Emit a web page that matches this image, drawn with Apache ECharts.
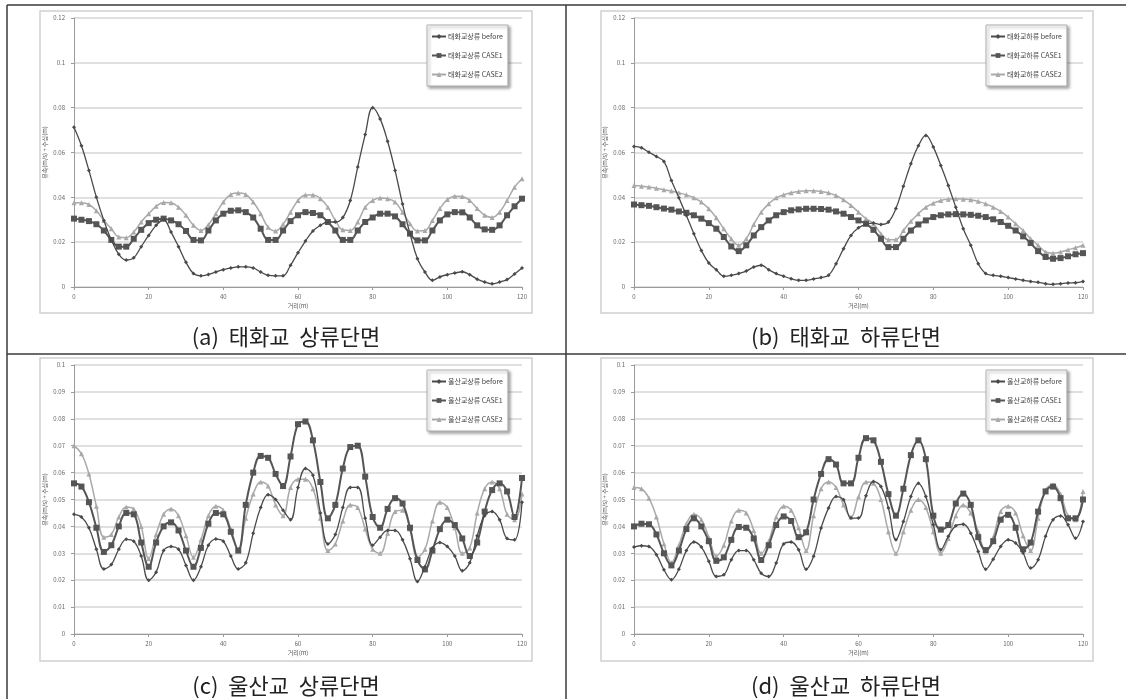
<!DOCTYPE html>
<html>
<head>
<meta charset="utf-8">
<script src="https://cdn.jsdelivr.net/npm/echarts@6/dist/echarts.min.js"></script>
<style>
  html, body { margin: 0; padding: 0; background: #fff; }
  #chart { width: 1126px; height: 699px; }
</style>
</head>
<body>
<div id="chart"></div>
<script>
// distance (m)
const dist = [0, 2, 4, 6, 8, 10, 12, 14, 16, 18, 20, 22, 24, 26, 28, 30, 32, 34, 36, 38, 40,
    42, 44, 46, 48, 50, 52, 54, 56, 58, 60, 62, 64, 66, 68, 70, 72, 74, 76, 78, 80,
    82, 84, 86, 88, 90, 92, 94, 96, 98, 100, 102, 104, 106, 108, 110, 112, 114, 116, 118, 120];

// (a) 태화교 상류
const aBefore = [.0713, .0630, .0520, .0400, .0297, .0210, .0146, .0120, .0130, .0180,
    .0230, .0275, .0300, .0245, .0180, .0110, .0060, .0050, .0056, .0067,
    .0077, .0085, .0090, .0090, .0085, .0067, .0052, .0050, .0050, .0097,
    .0153, .0205, .0250, .0275, .0290, .0290, .0310, .0386, .0535, .0680,
    .0800, .0750, .0650, .0520, .0370, .0238, .0126, .0067, .0030, .0045,
    .0055, .0062, .0068, .0055, .0035, .0022, .0014, .0022, .0033, .0058, .0085];
const aCase1 = [.0305, .0300, .0294, .0280, .0252, .0210, .0180, .0180, .0215, .0255,
    .0285, .0300, .0305, .0297, .0280, .0250, .0210, .0208, .0252, .0297,
    .0327, .0340, .0342, .0334, .0310, .0260, .0210, .0210, .0252, .0294,
    .0320, .0334, .0330, .0320, .0290, .0252, .0210, .0210, .0252, .0290,
    .0310, .0327, .0327, .0315, .0280, .0238, .0208, .0208, .0252, .0297,
    .0324, .0334, .0333, .0310, .0275, .0257, .0255, .0275, .0320, .0360, .0394];
const aCase2 = [.0376, .0376, .0368, .0340, .0297, .0260, .0223, .0220, .0245, .0290,
    .0327, .0360, .0377, .0376, .0356, .0320, .0275, .0252, .0278, .0327,
    .0379, .0413, .0419, .0413, .0379, .0327, .0267, .0250, .0280, .0334,
    .0386, .0410, .0410, .0394, .0356, .0297, .0255, .0252, .0290, .0356,
    .0386, .0397, .0394, .0379, .0334, .0282, .0250, .0252, .0297, .0350,
    .0390, .0405, .0404, .0386, .0350, .0320, .0310, .0334, .0386, .0445, .0483];

// (b) 태화교 하류
const bBefore = [.0627, .0621, .0601, .0582, .0560, .0475, .0398, .0319, .0238, .0163,
    .0107, .0077, .0048, .0052, .0060, .0071, .0089, .0097, .0077, .0060,
    .0048, .0037, .0030, .0030, .0036, .0042, .0052, .0104, .0171, .0230,
    .0264, .0279, .0285, .0279, .0290, .0350, .0450, .0550, .0630, .0676,
    .0624, .0542, .0453, .0356, .0260, .0186, .0104, .0060, .0052, .0048,
    .0042, .0036, .0030, .0025, .0021, .0015, .0012, .0015, .0018, .0019, .0025];
const bCase1 = [.0368, .0365, .0362, .0356, .0350, .0345, .0337, .0331, .0320, .0305,
    .0285, .0260, .0223, .0181, .0160, .0186, .0230, .0267, .0297, .0320,
    .0334, .0342, .0346, .0349, .0349, .0348, .0345, .0337, .0327, .0312,
    .0297, .0282, .0255, .0215, .0178, .0178, .0215, .0252, .0279, .0297,
    .0312, .0320, .0324, .0325, .0324, .0322, .0318, .0312, .0302, .0290,
    .0273, .0252, .0226, .0196, .0160, .0134, .0126, .0129, .0137, .0146, .0151];
const bCase2 = [.0453, .0450, .0446, .0440, .0434, .0428, .0420, .0411, .0398, .0379,
    .0349, .0309, .0260, .0215, .0186, .0215, .0279, .0334, .0371, .0398,
    .0411, .0420, .0426, .0429, .0429, .0426, .0420, .0408, .0389, .0364,
    .0334, .0305, .0282, .0238, .0211, .0212, .0252, .0293, .0327, .0356,
    .0374, .0386, .0392, .0394, .0392, .0389, .0382, .0371, .0356, .0337,
    .0312, .0282, .0252, .0215, .0186, .0156, .0151, .0156, .0166, .0175, .0186];

// (c) 울산교 상류
const cBefore = [.0445, .0435, .0395, .0315, .0242, .0258, .0315, .0352, .0345, .0290,
    .0200, .0230, .0310, .0325, .0315, .0255, .0200, .0250, .0330, .0353,
    .0345, .0290, .0242, .0265, .0375, .0470, .0518, .0500, .0460, .0425,
    .0545, .0615, .0590, .0450, .0335, .0370, .0470, .0545, .0545, .0430,
    .0330, .0360, .0385, .0385, .0350, .0280, .0195, .0250, .0320, .0340,
    .0325, .0290, .0235, .0265, .0365, .0440, .0455, .0425, .0355, .0350, .0490];
const cCase1 = [.0560, .0548, .0490, .0395, .0305, .0330, .0400, .0450, .0445, .0340,
    .0250, .0340, .0400, .0415, .0385, .0310, .0250, .0320, .0410, .0450,
    .0445, .0380, .0310, .0480, .0600, .0662, .0655, .0595, .0550, .0660,
    .0780, .0790, .0720, .0565, .0430, .0480, .0615, .0695, .0700, .0585,
    .0435, .0395, .0465, .0505, .0485, .0395, .0275, .0240, .0310, .0390,
    .0425, .0405, .0355, .0290, .0340, .0455, .0535, .0560, .0530, .0435, .0580];
const cCase2 = [.0700, .0670, .0595, .0475, .0360, .0370, .0435, .0472, .0465, .0400,
    .0280, .0370, .0445, .0465, .0440, .0365, .0285, .0350, .0440, .0475,
    .0460, .0390, .0315, .0430, .0520, .0565, .0550, .0480, .0440, .0545,
    .0575, .0575, .0540, .0430, .0310, .0335, .0420, .0480, .0470, .0390,
    .0315, .0300, .0375, .0455, .0460, .0390, .0285, .0315, .0420, .0490,
    .0470, .0395, .0300, .0320, .0450, .0540, .0565, .0540, .0445, .0425, .0520];

// (d) 울산교 하류
const dBefore = [.0323, .0328, .0325, .0295, .0239, .0202, .0241, .0310, .0342, .0323,
    .0270, .0214, .0220, .0276, .0310, .0310, .0276, .0226, .0214, .0264,
    .0335, .0342, .0313, .0241, .0289, .0394, .0468, .0511, .0499, .0431,
    .0431, .0514, .0567, .0548, .0468, .0350, .0418, .0511, .0560, .0511,
    .0406, .0313, .0363, .0402, .0408, .0375, .0307, .0241, .0278, .0325,
    .0350, .0338, .0301, .0245, .0276, .0363, .0425, .0439, .0406, .0356, .0418];
const dCase1 = [.0400, .0410, .0408, .0370, .0300, .0255, .0310, .0390, .0430, .0400,
    .0345, .0272, .0285, .0350, .0398, .0395, .0355, .0275, .0330, .0405,
    .0437, .0420, .0360, .0378, .0500, .0595, .0650, .0630, .0560, .0560,
    .0655, .0728, .0720, .0640, .0520, .0440, .0540, .0665, .0720, .0650,
    .0440, .0388, .0405, .0485, .0522, .0480, .0360, .0312, .0345, .0425,
    .0443, .0395, .0315, .0340, .0455, .0530, .0548, .0505, .0430, .0430, .0500];
const dCase2 = [.0545, .0540, .0505, .0435, .0335, .0265, .0330, .0410, .0445, .0425,
    .0360, .0290, .0330, .0420, .0460, .0450, .0385, .0300, .0345, .0435,
    .0475, .0460, .0395, .0310, .0440, .0540, .0565, .0545, .0480, .0435,
    .0510, .0565, .0560, .0500, .0380, .0300, .0380, .0460, .0500, .0470,
    .0380, .0300, .0355, .0440, .0480, .0450, .0380, .0305, .0360, .0455,
    .0475, .0450, .0365, .0310, .0430, .0535, .0555, .0520, .0440, .0425, .0530];

const sites = ['태화교상류', '태화교하류', '울산교상류', '울산교하류'];
const captions = ['(a)  태화교  상류단면', '(b)  태화교  하류단면', '(c)  울산교  상류단면', '(d)  울산교  하류단면'];
const caseNames = ['before', 'CASE1', 'CASE2'];
const yMax = [0.12, 0.12, 0.1, 0.1];
const yStep = [0.02, 0.02, 0.01, 0.01];
const values = [
    [aBefore, aCase1, aCase2],
    [bBefore, bCase1, bCase2],
    [cBefore, cCase1, cCase2],
    [dBefore, dCase1, dCase2]
];
</script>
<script>
(function ()
{
    let myChart = echarts.init(document.getElementById('chart'));
    const font = "'Noto Sans CJK KR', 'Noto Sans', sans-serif";

    // layout of the four panels (plot area + outer chart frame)
    const grids = [
        {left: 74, top: 18, width: 448, height: 269},
        {left: 634, top: 18, width: 449, height: 269},
        {left: 74, top: 365, width: 448, height: 269},
        {left: 634, top: 365, width: 449, height: 269}
    ];
    const frames = [
        [40, 11, 492, 302], [601, 11, 492, 302],
        [40, 358, 492, 303], [601, 358, 492, 303]
    ];
    const captionPos = [[286, 337], [846, 337], [286, 686], [846, 686]];
    const legendPos = [[427, 25], [986, 25], [427, 370], [986, 370]];

    const styles = [
        {color: '#4a4a4a', width: 1.3, symbol: 'diamond', size: 4},
        {color: '#555555', width: 2, symbol: 'rect', size: 6},
        {color: '#a9a9a9', width: 1.5, symbol: 'triangle', size: 5}
    ];

    let xAxis = [], yAxis = [], series = [], legend = [], graphic = [];

    grids.forEach(function (g, i)
    {
        xAxis.push({
            type: 'value', gridIndex: i, min: 0, max: 120, interval: 20,
            name: '거리(m)', nameLocation: 'middle', nameGap: 16,
            nameTextStyle: {fontSize: 6, color: '#555', fontFamily: font},
            axisLine: {lineStyle: {color: '#9a9a9a'}},
            axisTick: {length: 3, lineStyle: {color: '#9a9a9a'}},
            axisLabel: {fontSize: 6, color: '#666', margin: 7, fontFamily: font},
            splitLine: {show: false}
        });
        yAxis.push({
            type: 'value', gridIndex: i, min: 0, max: yMax[i], interval: yStep[i],
            name: '유속(m/s) + 수심(m)', nameLocation: 'middle', nameGap: 26,
            nameTextStyle: {fontSize: 6, color: '#555', fontFamily: font},
            axisLine: {show: true, lineStyle: {color: '#9a9a9a'}},
            axisTick: {show: true, length: 3, lineStyle: {color: '#9a9a9a'}},
            axisLabel: {fontSize: 6, color: '#666', margin: 9, fontFamily: font},
            splitLine: {lineStyle: {color: '#d6d6d6', width: 1.5}}
        });

        let names = [];
        caseNames.forEach(function (c, k)
        {
            let name = sites[i] + ' ' + c;
            names.push(name);
            let st = styles[k];
            series.push({
                name: name,
                type: 'line',
                xAxisIndex: i,
                yAxisIndex: i,
                data: dist.map(function (d, j)
                {
                    return [d, values[i][k][j]];
                }),
                smooth: 0.4,
                symbol: st.symbol,
                symbolSize: st.size,
                showAllSymbol: true,
                lineStyle: {color: st.color, width: st.width},
                itemStyle: {color: st.color},
                z: 3 - k,
                animation: false
            });
        });

        legend.push({
            data: names,
            orient: 'vertical',
            left: legendPos[i][0],
            top: legendPos[i][1],
            itemGap: 12,
            itemWidth: 14,
            itemHeight: 6,
            padding: [8, 5, 8, 4],
            backgroundColor: '#fff',
            borderColor: '#b0b0b0',
            borderWidth: 1,
            shadowBlur: 3,
            shadowColor: 'rgba(0,0,0,0.35)',
            shadowOffsetX: 2,
            shadowOffsetY: 2,
            textStyle: {fontSize: 7, color: '#444', fontFamily: font, padding: [0, 0, 0, -3]}
        });

        let f = frames[i];
        graphic.push({
            type: 'rect', z: -10,
            shape: {x: f[0], y: f[1], width: f[2], height: f[3]},
            style: {fill: '#fff', stroke: '#cfcfcf', lineWidth: 1.5}
        });
        graphic.push({
            type: 'text', z: 10,
            x: captionPos[i][0], y: captionPos[i][1],
            style: {
                text: captions[i], fill: '#222', font: '22px ' + font,
                align: 'center', verticalAlign: 'middle'
            }
        });
    });

    // table rules
    const rules = [
        [7, 5, 1126, 5], [7, 354, 1126, 354],
        [7, 5, 7, 699], [566, 5, 566, 699]
    ];
    rules.forEach(function (r)
    {
        graphic.push({
            type: 'line', z: 10,
            shape: {x1: r[0], y1: r[1], x2: r[2], y2: r[3]},
            style: {stroke: '#3a3a3a', lineWidth: 1.5}
        });
    });

    myChart.setOption({
        backgroundColor: '#fff',
        animation: false,
        grid: grids,
        xAxis: xAxis,
        yAxis: yAxis,
        legend: legend,
        graphic: graphic,
        series: series
    });
})();
</script>
</body>
</html>
